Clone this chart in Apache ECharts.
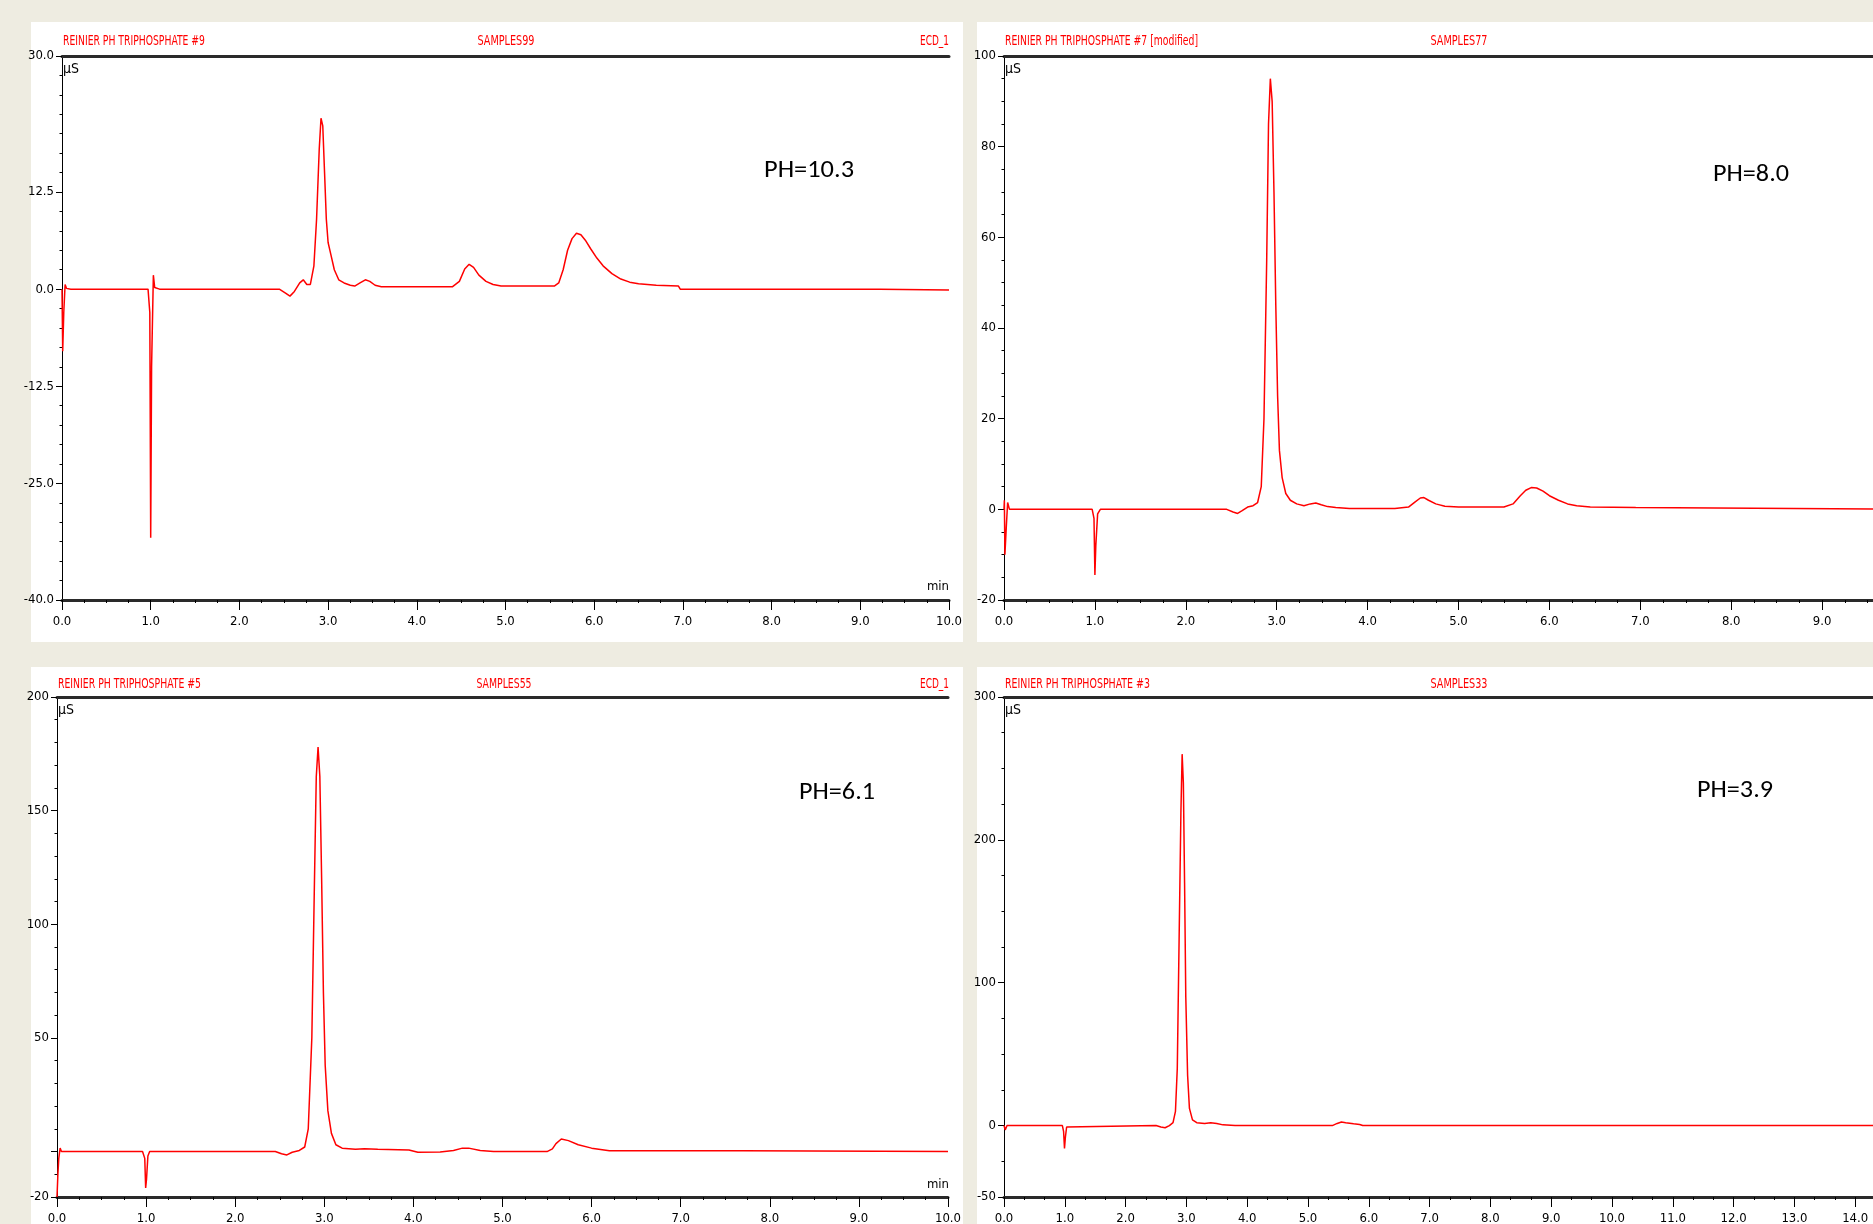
<!DOCTYPE html>
<html><head><meta charset="utf-8">
<script src="https://cdn.jsdelivr.net/npm/echarts@6/dist/echarts.min.js"></script>
<style>html,body{margin:0;padding:0;background:#EEECE1;overflow:hidden}#c{width:1873px;height:1224px}</style>
</head><body><div id="c"></div>
<script>
// ---- chromatogram traces: [time (min), conductivity (µS)] ----
const tracePH103 = [[0,0],[0.008,-8],[0.02,-3],[0.035,0.6],[0.05,0.1],[0.1,0],[0.97,0],[0.99,-3],[1.0,-32],[1.01,-10],[1.03,1.8],[1.045,0.2],[1.1,0],
 [2.45,0],[2.52,-0.5],[2.57,-0.9],[2.62,-0.3],[2.68,0.8],[2.72,1.2],[2.76,0.6],[2.8,0.6],[2.84,3],[2.87,9],[2.9,18],[2.92,22],[2.94,21],[2.96,15],[2.98,9],
 [3.0,6],[3.03,4.5],[3.07,2.5],[3.12,1.2],[3.18,0.8],[3.25,0.5],[3.3,0.4],[3.36,0.8],[3.42,1.2],[3.47,1.0],[3.53,0.5],[3.6,0.3],[4.4,0.3],[4.48,1],[4.54,2.6],
 [4.59,3.2],[4.64,2.8],[4.7,1.8],[4.78,1.0],[4.86,0.6],[4.95,0.4],[5.55,0.4],[5.6,0.8],[5.65,2.5],[5.7,5],[5.75,6.5],[5.8,7.2],[5.85,7.0],[5.9,6.3],[5.96,5.2],
 [6.03,4.0],[6.1,3.0],[6.2,2.0],[6.3,1.3],[6.4,0.9],[6.5,0.7],[6.6,0.6],[6.7,0.5],[6.95,0.4],[6.97,0],[9.22,0],[9.24,-0.1],[10,-0.1]];
const tracePH80 = [[0,0],[0.004,2],[0.01,-10],[0.025,-4],[0.04,1.5],[0.06,0],[0.97,0],[0.99,-2],[1.0,-14.5],[1.01,-8],[1.03,-1],[1.06,0],
 [2.45,0],[2.52,-0.6],[2.57,-0.9],[2.62,-0.3],[2.68,0.5],[2.74,0.8],[2.79,1.5],[2.83,5],[2.86,20],[2.89,55],[2.91,85],[2.93,95],[2.95,90],[2.97,70],[2.99,45],
 [3.01,25],[3.03,13],[3.06,7],[3.1,3.5],[3.15,2],[3.22,1.2],[3.3,0.8],[3.37,1.2],[3.43,1.4],[3.49,1.0],[3.56,0.6],[3.65,0.4],[3.8,0.2],[4.3,0.2],[4.45,0.5],
 [4.52,1.6],[4.58,2.5],[4.62,2.6],[4.67,2.0],[4.75,1.2],[4.85,0.7],[5.0,0.5],[5.5,0.5],[5.6,1.2],[5.68,3],[5.74,4.2],[5.8,4.8],[5.86,4.7],[5.93,4.0],[6.0,3.0],
 [6.1,2.0],[6.2,1.2],[6.3,0.8],[6.45,0.5],[6.95,0.4],[6.97,0],[10,0]];
const tracePH61 = [[0,-20],[0.01,-10],[0.02,-3],[0.035,1.5],[0.05,0],[0.96,0],[0.985,-3],[0.995,-16],[1.005,-12],[1.02,-2],[1.04,0],
 [2.45,0],[2.52,-1],[2.58,-1.5],[2.64,-0.3],[2.72,0.5],[2.78,2],[2.82,10],[2.86,50],[2.89,120],[2.91,165],[2.93,178],[2.95,165],[2.97,120],[2.99,70],
 [3.01,38],[3.04,18],[3.08,8],[3.13,3],[3.2,1.5],[3.35,1],[3.45,1.2],[3.6,1],[3.95,0.7],[4.05,-0.3],[4.3,-0.2],[4.45,0.5],[4.55,1.5],[4.62,1.5],[4.75,0.5],
 [4.9,0],[5.5,0],[5.56,1.2],[5.6,3.5],[5.66,5.5],[5.74,4.8],[5.85,3],[6.0,1.5],[6.2,0.4],[7.7,0.3],[7.72,0],[10,0]];
const tracePH39 = [[0,0],[0.02,-3],[0.05,0],[0.96,0],[0.98,-4],[0.995,-16],[1.01,-8],[1.03,-1],[1.06,0],
 [2.5,0],[2.58,-1],[2.65,-1.5],[2.72,0],[2.78,2],[2.82,10],[2.85,40],[2.88,130],[2.91,220],[2.93,260],[2.95,240],[2.97,170],[2.99,90],
 [3.02,35],[3.05,12],[3.1,4],[3.17,2],[3.3,1.5],[3.4,2],[3.5,1.5],[3.6,0.5],[3.8,0],[5.4,0],[5.48,1.5],[5.55,2.5],[5.62,2],[5.75,1.2],[5.85,0.8],[5.9,0],[15,0]];

// ---- axis tick labels ----
const yLabelsPH103 = [30, 12.5, 0, -12.5, -25, -40];
const yLabelsPH80  = [100, 80, 60, 40, 20, 0, -20];
const yLabelsPH61  = [200, 150, 100, 50, -20];
const yMajorPH61   = [200, 150, 100, 50, 0, -20];
const yLabelsPH39  = [300, 200, 100, 0, -50];

// ---- texts ----
const headers = [
  ['REINIER PH TRIPHOSPHATE #9', 'SAMPLES99', 'ECD_1', 'PH=10.3'],
  ['REINIER PH TRIPHOSPHATE #7 [modified]', 'SAMPLES77', '', 'PH=8.0'],
  ['REINIER PH TRIPHOSPHATE #5', 'SAMPLES55', 'ECD_1', 'PH=6.1'],
  ['REINIER PH TRIPHOSPHATE #3', 'SAMPLES33', '', 'PH=3.9']
];

const NARROW = "'Liberation Sans Narrow','Arial Narrow','DejaVu Sans Condensed',sans-serif";
const PHFONT = "'Carlito','Lato','Open Sans',sans-serif";
const RED = '#ff0000';

const panels = [
  {rect:[31,22,932,620], grid:{left:62,top:56,width:887,height:544}, xMax:10, xMinor:4,
   yMin:-40, yMax:30, yMajor:yLabelsPH103, yLabels:yLabelsPH103, yStep:2.5, fmt:v=>v.toFixed(1), data:tracePH103,
   head:headers[0], headY:41, hdrW:[142,57,29], samplesX:506, ecdX:949, ph:[764,171,90], minY:587},
  {rect:[977,22,896,620], grid:{left:1004,top:56,width:909,height:544}, xMax:10, xMinor:4,
   yMin:-20, yMax:100, yMajor:yLabelsPH80, yLabels:yLabelsPH80, yStep:5, fmt:v=>String(v), data:tracePH80,
   head:headers[1], headY:41, hdrW:[193,57,0], samplesX:1459, ecdX:0, ph:[1713,175,76], minY:0},
  {rect:[31,667,932,557], grid:{left:57,top:697,width:891,height:500}, xMax:10, xMinor:4,
   yMin:-20, yMax:200, yMajor:yMajorPH61, yLabels:yLabelsPH61, yStep:10, fmt:v=>String(v), data:tracePH61,
   head:headers[2], headY:684, hdrW:[143,55,29], samplesX:504, ecdX:949, ph:[799,793,76], minY:1185},
  {rect:[977,667,896,557], grid:{left:1004,top:697,width:912,height:500}, xMax:15, xMinor:3,
   yMin:-50, yMax:300, yMajor:yLabelsPH39, yLabels:yLabelsPH39, yStep:25, fmt:v=>String(v), data:tracePH39,
   head:headers[3], headY:684, hdrW:[145,57,0], samplesX:1459, ecdX:0, ph:[1697,791,76], minY:0}
];

const mctx = document.createElement('canvas').getContext('2d');
function fitScale(text, size, family, weight, target){
  mctx.font = (weight||'normal') + ' ' + size + 'px ' + family;
  const w = mctx.measureText(text).width;
  return target ? target / w : 1;
}
function txt(text, x, y, size, family, color, align, target){
  return {type:'text', x:x, y:y, z:100, scaleX: fitScale(text, size, family, 'normal', target),
    style:{text:text, fontSize:size, fontFamily:family, fill:color, align:align, verticalAlign:'middle'}};
}

const grids=[], xAxes=[], yAxes=[], series=[], graphics=[];
panels.forEach((p,i)=>{
  graphics.push({type:'rect', z:-100, shape:{x:p.rect[0],y:p.rect[1],width:p.rect[2],height:p.rect[3]}, style:{fill:'#ffffff'}});
  grids.push(Object.assign({containLabel:false, outerBoundsMode:'none', show:false}, p.grid));
  const thick = {color:'#2a2a2a', width:3};
  xAxes.push({type:'value', gridIndex:i, min:0, max:p.xMax, interval:1, position:'bottom',
    axisLine:{show:true,onZero:false,lineStyle:thick},
    axisTick:{show:true,length:10,lineStyle:{color:'#000',width:1}},
    minorTick:{show:true,splitNumber:p.xMinor,length:3,lineStyle:{color:'#000',width:1}},
    axisLabel:{show:true,margin:15,fontFamily:NARROW,fontSize:13,color:'#000',formatter:v=>v.toFixed(1)},
    splitLine:{show:false}, minorSplitLine:{show:false}});
  xAxes.push({type:'value', gridIndex:i, min:0, max:p.xMax, position:'top',
    axisLine:{show:true,onZero:false,lineStyle:thick}, axisTick:{show:false}, axisLabel:{show:false}, splitLine:{show:false}});
  yAxes.push({type:'value', gridIndex:i, min:p.yMin, max:p.yMax, position:'left',
    axisLine:{show:true,onZero:false,lineStyle:{color:'#000',width:1}},
    axisTick:{show:true,length:6,customValues:p.yMajor,lineStyle:{color:'#000',width:1}},
    axisLabel:{show:true,customValues:p.yLabels,margin:8,fontFamily:NARROW,fontSize:13,color:'#000',formatter:p.fmt},
    splitLine:{show:false}});
  yAxes.push({type:'value', gridIndex:i, min:p.yMin, max:p.yMax, interval:p.yStep, position:'left',
    axisLine:{show:false}, axisTick:{show:true,length:2.5,lineStyle:{color:'#000',width:1}},
    axisLabel:{show:false}, splitLine:{show:false}});
  series.push({type:'line', xAxisIndex:2*i, yAxisIndex:2*i, data:p.data, showSymbol:false, symbol:'none',
    lineStyle:{color:RED,width:1.5}, animation:false, clip:true, silent:true});
  // texts
  const gx = p.grid.left, gy = p.grid.top;
  graphics.push(txt(p.head[0], gx+1, p.headY, 14, NARROW, RED, 'left', p.hdrW[0]));
  graphics.push(txt(p.head[1], p.samplesX, p.headY, 14, NARROW, RED, 'center', p.hdrW[1]));
  if (p.head[2]) graphics.push(txt(p.head[2], p.ecdX, p.headY, 14, NARROW, RED, 'right', p.hdrW[2]));
  graphics.push(txt('µS', gx+1, gy+13, 14, NARROW, '#000', 'left', 0));
  if (p.minY) graphics.push(txt('min', 949, p.minY, 13, NARROW, '#000', 'right', 0));
  graphics.push(txt(p.head[3], p.ph[0], p.ph[1], 24, PHFONT, '#000', 'left', p.ph[2]));
});

const chart = echarts.init(document.getElementById('c'), null, {renderer:'canvas'});
chart.setOption({
  backgroundColor:'#EEECE1', animation:false,
  grid:grids, xAxis:xAxes, yAxis:yAxes, series:series, graphic:graphics
});
</script></body></html>
